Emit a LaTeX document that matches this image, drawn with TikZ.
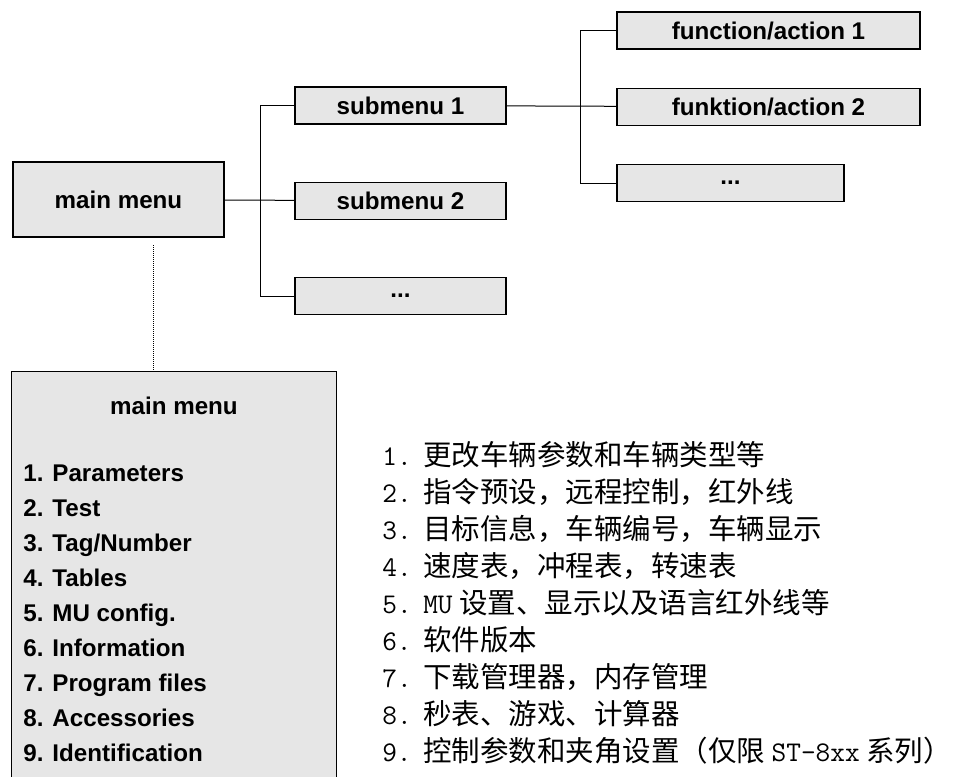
\documentclass[tikz,border=0pt]{standalone}
\usepackage{fontspec}
\setmainfont{Liberation Sans}
\newfontfamily\cjk{Noto Sans CJK SC}
\usetikzlibrary{positioning}
\definecolor{menugray}{RGB}{230,230,230}
\tikzstyle{menubox} = [draw = black, line width = 0.8pt, fill = menugray, inner sep = 0pt,
minimum height = 22.2pt, font = \bfseries\fontsize{14.5}{17}\selectfont]
\tikzstyle{entry} = [inner sep = 0pt, anchor = base west, font = \bfseries\fontsize{14.5}{17}\selectfont]
\tikzstyle{zhline} = [inner sep = 0pt, anchor = base west, font = \cjk\fontsize{17.1}{21}\selectfont]
\tikzstyle{link} = [line width = 0.6pt]
\tikzstyle{dotline} = [line width = 0.6pt, dash pattern = on 0.6pt off 0.6pt]

\begin{document}
\begin{tikzpicture} [x = 0.6pt, y = -0.6pt, node distance = 34.2pt]
\useasboundingbox (0,0) rectangle (962,776);

% tree
\node (main) [menubox, minimum width = 126.6pt, minimum height = 45pt] at (118.5,199.5) {main menu};
\node (sub1) [menubox, minimum width = 126.6pt] at (400.5,105.5) {submenu 1};
\node (sub2) [menubox, minimum width = 126.6pt, below = of sub1] {submenu 2};
\node (sub3) [menubox, minimum width = 126.6pt, below = of sub2] {...};

\node (fa1) [menubox, minimum width = 181.8pt] at (768.5,30.5) {function/action 1};
\node (fa2) [menubox, minimum width = 181.8pt, below = 22.8pt of fa1] {funktion/action 2};
\node (fa3) [menubox, minimum width = 136.2pt, below = 22.8pt of fa2.south west, anchor = north west] {...};

\coordinate (bus1) at (260,0);
\coordinate (bus2) at (580,0);
\draw[link] (main) -- (sub2);
\draw[link] (sub1.west) -- (sub1.west -| bus1) |- (sub3.west);
\draw[link] (sub1) -- (fa2);
\draw[link] (fa1.west) -- (fa1.west -| bus2) |- (fa3.west);

% main menu list
\node (menulist) [draw = black, line width = 0.8pt, fill = menugray, anchor = north west,
minimum width = 195pt, minimum height = 257.4pt] at (11,371) {};
\coordinate (dtop) at (153,245);
\draw[dotline] (dtop) -- (dtop |- menulist.north);

\node (listtitle) [inner sep = 0pt, font = \bfseries\fontsize{14.5}{17}\selectfont] at (174,406) {main menu};
\foreach \i/\t in {1/Parameters, 2/Test, 3/Tag\slash Number, 4/Tables, 5/MU config., 6/Information,
7/Program files, 8/Accessories, 9/Identification}
\node (item\i) [entry] at (23,{481.5+35*(\i-1)}) {\i. \t};

% chinese notes
\foreach \i/\t in {1/更改车辆参数和车辆类型等, 2/指令预设，远程控制，红外线, 3/目标信息，车辆编号，车辆显示,
4/速度表，冲程表，转速表, 5/{{\ttfamily MU} 设置、显示以及语言红外线等}, 6/软件版本,
7/下载管理器，内存管理, 8/秒表、游戏、计算器, 9/{控制参数和夹角设置（仅限 {\ttfamily ST-8xx} 系列）}}
\node (zh\i) [zhline] at (382,{465+37*(\i-1)}) {\makebox[24.6pt][l]{\ttfamily\i.}\t};
\end{tikzpicture}
\end{document}
